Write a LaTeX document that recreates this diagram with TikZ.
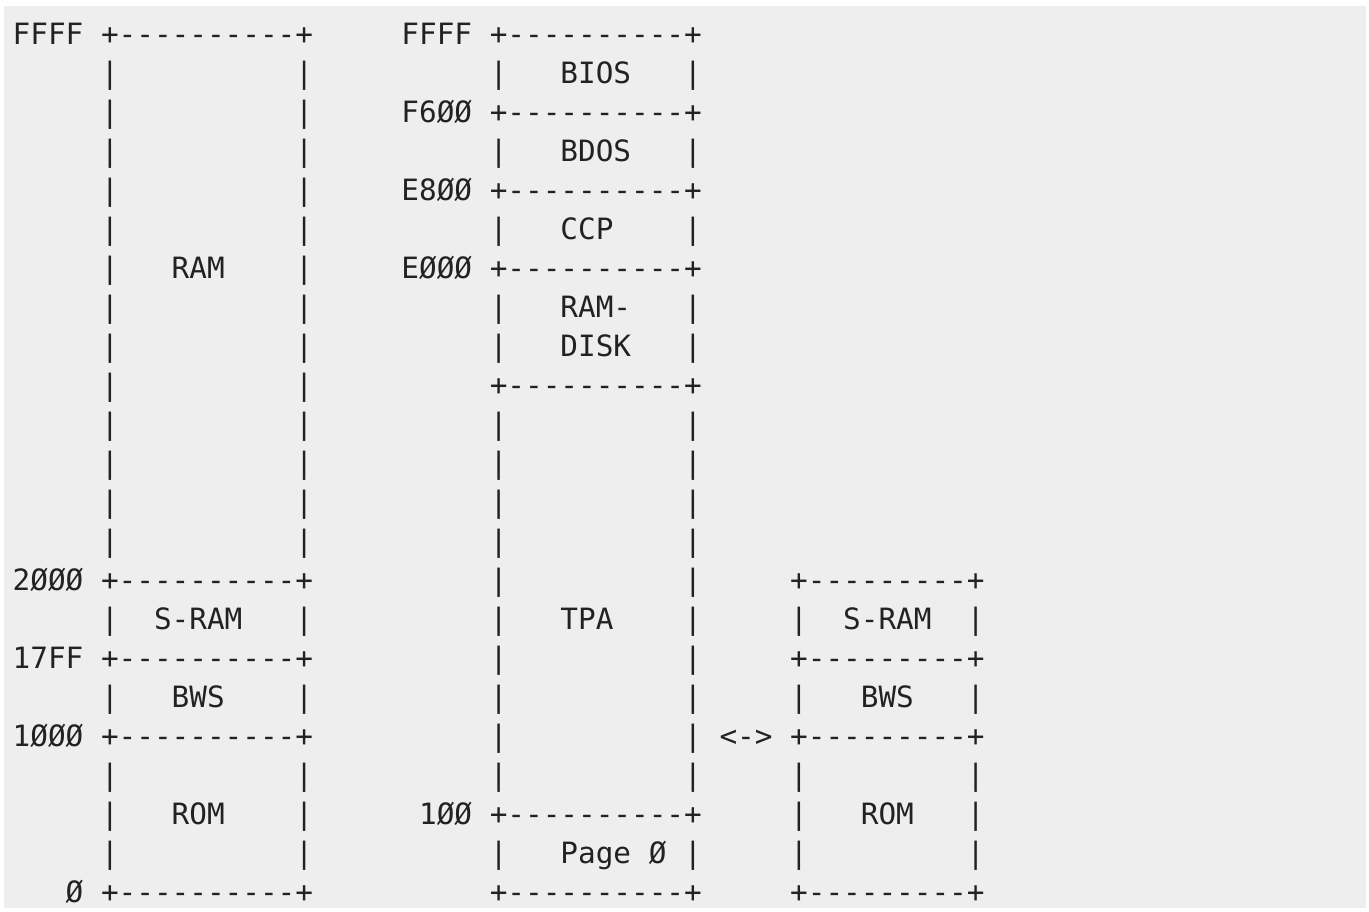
\documentclass[tikz,border=0pt]{standalone}
\usepackage{fontspec}
\setmonofont{DejaVu Sans Mono}
\definecolor{bggray}{HTML}{EEEEEE}
\definecolor{textgray}{HTML}{222222}
\usetikzlibrary{positioning}
\tikzset{
	asciirow/.style={
			anchor=base west,
			inner sep=0pt,
			outer sep=0pt,
			text=textgray,
			font=\ttfamily\fontsize{29.35pt}{39pt}\selectfont
		}
}
\begin{document}
\begin{tikzpicture}[x=1pt, y=-1pt]
\useasboundingbox (0,0) rectangle (1369,912);
\fill[bggray] (4,6) rectangle (1366,908);

\node[asciirow] (r0)  at (12.7,44.3)  {FFFF~+----------+~~~~~FFFF~+----------+};
\node[asciirow] (r1)  at (12.7,83.3)  {~~~~~|~~~~~~~~~~|~~~~~~~~~~|~~~BIOS~~~|};
\node[asciirow] (r2)  at (12.7,122.3) {~~~~~|~~~~~~~~~~|~~~~~F6ØØ~+----------+};
\node[asciirow] (r3)  at (12.7,161.3) {~~~~~|~~~~~~~~~~|~~~~~~~~~~|~~~BDOS~~~|};
\node[asciirow] (r4)  at (12.7,200.3) {~~~~~|~~~~~~~~~~|~~~~~E8ØØ~+----------+};
\node[asciirow] (r5)  at (12.7,239.3) {~~~~~|~~~~~~~~~~|~~~~~~~~~~|~~~CCP~~~~|};
\node[asciirow] (r6)  at (12.7,278.3) {~~~~~|~~~RAM~~~~|~~~~~EØØØ~+----------+};
\node[asciirow] (r7)  at (12.7,317.3) {~~~~~|~~~~~~~~~~|~~~~~~~~~~|~~~RAM-~~~|};
\node[asciirow] (r8)  at (12.7,356.3) {~~~~~|~~~~~~~~~~|~~~~~~~~~~|~~~DISK~~~|};
\node[asciirow] (r9)  at (12.7,395.3) {~~~~~|~~~~~~~~~~|~~~~~~~~~~+----------+};
\node[asciirow] (r10) at (12.7,434.3) {~~~~~|~~~~~~~~~~|~~~~~~~~~~|~~~~~~~~~~|};
\node[asciirow] (r11) at (12.7,473.3) {~~~~~|~~~~~~~~~~|~~~~~~~~~~|~~~~~~~~~~|};
\node[asciirow] (r12) at (12.7,512.3) {~~~~~|~~~~~~~~~~|~~~~~~~~~~|~~~~~~~~~~|};
\node[asciirow] (r13) at (12.7,551.3) {~~~~~|~~~~~~~~~~|~~~~~~~~~~|~~~~~~~~~~|};
\node[asciirow] (r14) at (12.7,590.3) {2ØØØ~+----------+~~~~~~~~~~|~~~~~~~~~~|~~~~~+---------+};
\node[asciirow] (r15) at (12.7,629.3) {~~~~~|~~S-RAM~~~|~~~~~~~~~~|~~~TPA~~~~|~~~~~|~~S-RAM~~|};
\node[asciirow] (r16) at (12.7,668.3) {17FF~+----------+~~~~~~~~~~|~~~~~~~~~~|~~~~~+---------+};
\node[asciirow] (r17) at (12.7,707.3) {~~~~~|~~~BWS~~~~|~~~~~~~~~~|~~~~~~~~~~|~~~~~|~~~BWS~~~|};
\node[asciirow] (r18) at (12.7,746.3) {1ØØØ~+----------+~~~~~~~~~~|~~~~~~~~~~|~<->~+---------+};
\node[asciirow] (r19) at (12.7,785.3) {~~~~~|~~~~~~~~~~|~~~~~~~~~~|~~~~~~~~~~|~~~~~|~~~~~~~~~|};
\node[asciirow] (r20) at (12.7,824.3) {~~~~~|~~~ROM~~~~|~~~~~~1ØØ~+----------+~~~~~|~~~ROM~~~|};
\node[asciirow] (r21) at (12.7,863.3) {~~~~~|~~~~~~~~~~|~~~~~~~~~~|~~~Page~Ø~|~~~~~|~~~~~~~~~|};
\node[asciirow] (r22) at (12.7,902.3) {~~~Ø~+----------+~~~~~~~~~~+----------+~~~~~+---------+};
\end{tikzpicture}
\end{document}
